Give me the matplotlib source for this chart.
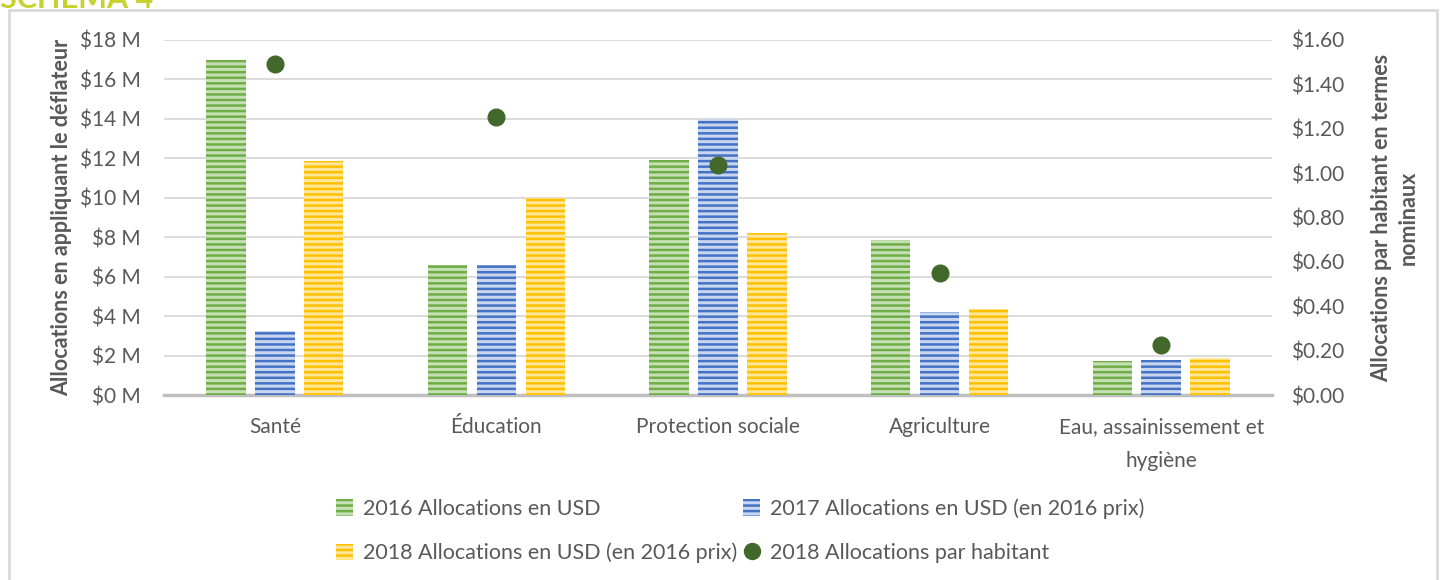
import matplotlib.pyplot as plt
import matplotlib.patches as mpatches
from matplotlib.lines import Line2D
import numpy as np

categories = ["Santé", "Éducation", "Protection sociale", "Agriculture",
              "Eau, assainissement et\nhygiène"]
alloc_2016 = [17.0, 6.6, 11.9, 7.85, 1.72]
alloc_2017 = [3.25, 6.6, 14.0, 4.2, 1.77]
alloc_2018 = [11.85, 10.0, 8.2, 4.35, 1.87]
per_capita_2018 = [1.49, 1.255, 1.035, 0.55, 0.225]

left_ticks = [0, 2, 4, 6, 8, 10, 12, 14, 16, 18]
right_ticks = [0, 0.2, 0.4, 0.6, 0.8, 1.0, 1.2, 1.4, 1.6]

series_labels = ["2016 Allocations en USD",
                 "2017 Allocations en USD (en 2016 prix)",
                 "2018 Allocations en USD (en 2016 prix)",
                 "2018 Allocations par habitant"]

plt.rcParams['font.family'] = ['Lato', 'DejaVu Sans']
plt.rcParams['hatch.linewidth'] = 2.2
txt = '#595959'

fig = plt.figure(figsize=(14.42, 5.8), dpi=100)
ax = fig.add_axes([164/1442, 1-395/580, (1272-164)/1442, 355/580])
ax2 = ax.twinx()

x = np.arange(len(categories))
w = 0.178
step = 0.221
colors = [('#70AD47', '#C5E0B4'), ('#4472C4', '#C9D6EF'), ('#FFC000', '#FFE699')]
handles = []
for i, (vals, (main, light)) in enumerate(zip([alloc_2016, alloc_2017, alloc_2018], colors)):
    b = ax.bar(x + (i-1)*step, vals, w, color=main, edgecolor=light, linewidth=0,
               hatch='---', zorder=3)
    handles.append(b)

ax2.plot(x, per_capita_2018, 'o', color='#43682B', markersize=12, zorder=4)
dot = Line2D([], [], marker='o', color='#43682B', linestyle='', markersize=11.5)

ax.set_xlim(-0.5, 4.5)
ax.set_ylim(0, 18)
ax2.set_ylim(0, 1.6)
ax.set_yticks(left_ticks)
ax.set_yticklabels(["$%d M" % t for t in left_ticks])
ax2.set_yticks(right_ticks)
ax2.set_yticklabels(["$%.2f" % t for t in right_ticks])
ax.set_xticks(x)
ax.set_xticklabels(categories, linespacing=1.85)

ax.yaxis.grid(True, color='#D9D9D9', linewidth=1.3, zorder=0)
ax.set_axisbelow(True)
for a in (ax, ax2):
    for s in a.spines.values():
        s.set_visible(False)
    a.tick_params(length=0, labelsize=15, colors=txt)
ax.spines['bottom'].set_visible(True)
ax.spines['bottom'].set_color('#BFBFBF')
ax.spines['bottom'].set_linewidth(2.5)
ax.tick_params(axis='x', pad=16)
ax.tick_params(axis='y', pad=17)
ax2.tick_params(axis='y', pad=14)

ax.set_ylabel("Allocations en appliquant le déflateur", fontsize=15.5, fontweight='bold',
              color=txt)
ax.yaxis.set_label_coords(-0.083, 0.5)
ax2.set_ylabel("Allocations par habitant en termes\nnominaux", fontsize=15.5,
               fontweight='bold', color=txt, rotation=90, va='center', linespacing=1.35)
ax2.yaxis.set_label_coords(1.111, 0.5)

order = [0, 2, 1, 3]
all_handles = handles + [dot]
fig.legend([all_handles[i] for i in order], [series_labels[i] for i in order],
           ncol=2, loc='upper left', bbox_to_anchor=(327/1442, 1-490/580),
           frameon=False, fontsize=15.5, labelcolor=txt, handlelength=0.8,
           handleheight=0.8, handletextpad=0.45, columnspacing=0.3, labelspacing=1.1,
           borderaxespad=0)

fig.add_artist(mpatches.Rectangle((9/1442, -0.05), (1437-9)/1442, 1.05 - 10/580,
                                  transform=fig.transFigure, fill=False,
                                  edgecolor='#D9D9D9', linewidth=2))
fig.text(0.0, 1-8/580, "SCHÉMA 4", fontsize=22, fontweight='bold', color='#C5D32C',
         va='baseline', ha='left')

fig.savefig('out.png', dpi=100)
